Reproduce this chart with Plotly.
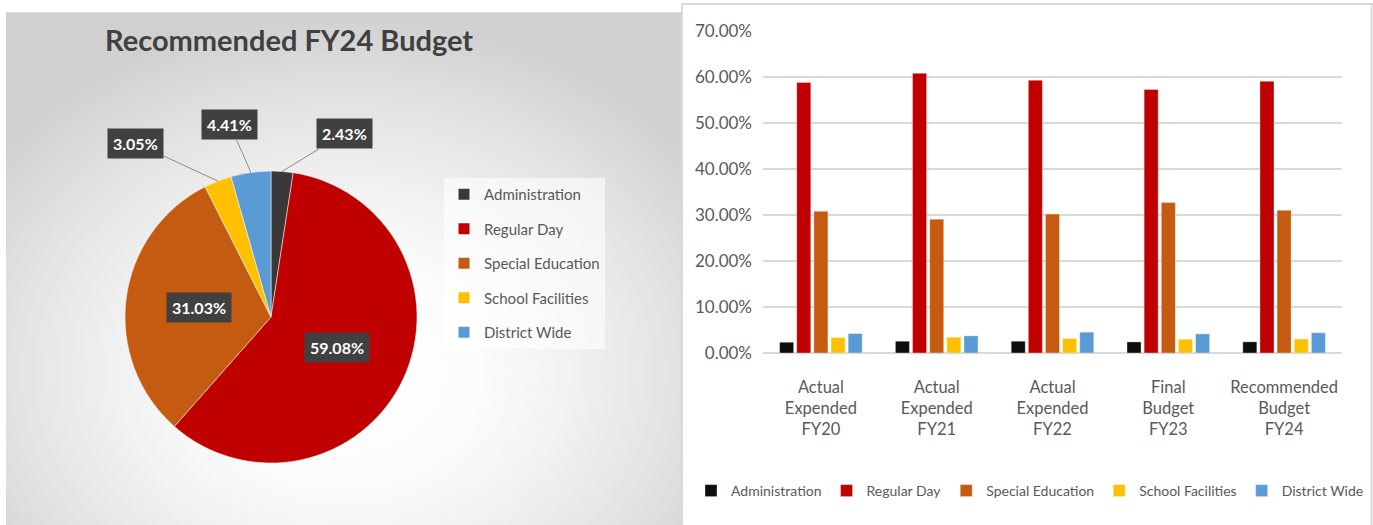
import math
import plotly.graph_objects as go

# ---------------- data ----------------
categories = ["Administration", "Regular Day", "Special Education", "School Facilities", "District Wide"]
pie_values = [2.43, 59.08, 31.03, 3.05, 4.41]

periods = ["Actual<br>Expended<br>FY20", "Actual<br>Expended<br>FY21", "Actual<br>Expended<br>FY22",
           "Final<br>Budget<br>FY23", "Recommended<br>Budget<br>FY24"]
admin_share = [0.0234, 0.0256, 0.0256, 0.0241, 0.0243]
regular_share = [0.588, 0.608, 0.593, 0.573, 0.5908]
sped_share = [0.308, 0.291, 0.302, 0.327, 0.3103]
facilities_share = [0.0336, 0.0343, 0.0314, 0.0300, 0.0305]
district_share = [0.0424, 0.0373, 0.0453, 0.0416, 0.0441]

y_tick_vals = [0, 0.1, 0.2, 0.3, 0.4, 0.5, 0.6, 0.7]

# ---------------- style ----------------
W, H = 1373, 525
FONT = "Lato"
TXT = "#595959"
bar_colors = ["#0d0d0d", "#c00000", "#c55a11", "#ffc000", "#5b9bd5"]
pie_colors = ["#3a3838", "#c00000", "#c55a11", "#ffc000", "#5b9bd5"]


def px(x):
    return x / W


def py(y):
    return 1 - y / H


fig = go.Figure()

# background gradient panel for the pie (polygon extends past the clipped panel to shift the light centre)
fig.add_trace(go.Scatter(
    x=[-0.15, 1.15, 1.15, -0.15, -0.15], y=[-0.4, -0.4, 1, 1, -0.4], fill="toself", mode="none",
    fillgradient=dict(type="radial", colorscale=[[0, "#ffffff"], [0.3, "#fcfcfc"], [0.5, "#f2f2f2"],
                                                 [0.75, "#e3e3e3"], [1, "#d0d0d0"]]),
    hoverinfo="skip", showlegend=False, xaxis="x3", yaxis="y3"))

# pie
cx, cy, r = 271, 317, 146
fig.add_trace(go.Pie(
    labels=categories, values=pie_values, marker=dict(colors=pie_colors, line=dict(color="white", width=0.5)),
    sort=False, direction="clockwise", rotation=0, textinfo="none", showlegend=False, hoverinfo="label+percent",
    domain=dict(x=[px(cx - r), px(cx + r)], y=[py(cy + r), py(cy - r)])))

# pie legend (separate legend)
for name, col in zip(categories, pie_colors):
    fig.add_trace(go.Scatter(
        x=[None], y=[None], mode="markers", name=name,
        marker=dict(symbol="square", size=11, color=col),
        legend="legend2", legendgroup="pie_" + name, xaxis="x3", yaxis="y3"))

# bars
series = [admin_share, regular_share, sped_share, facilities_share, district_share]
for name, col, vals in zip(categories, bar_colors, series):
    fig.add_trace(go.Bar(
        x=periods, y=vals, name=name,
        marker=dict(color=col, line=dict(color="rgba(255,255,255,0.6)", width=0.6)),
        legend="legend"))

# pie data labels
label_offsets = {  # pixel offsets for small-slice callouts
    "Administration": (62, -38),
    "School Facilities": (-82, -38),
    "District Wide": (-21, -48),
}
total = sum(pie_values)
cum = 0
annotations = []
for name, v in zip(categories, pie_values):
    mid = (cum + v / 2) / total * 2 * math.pi
    cum += v
    text = f"<b>{v:.2f}%</b>"
    if name in label_offsets:
        ex, ey = cx + r * math.sin(mid), cy - r * math.cos(mid)
        ax, ay = label_offsets[name]
        annotations.append(dict(
            x=px(ex), y=py(ey), xref="paper", yref="paper", text=text, showarrow=True,
            arrowhead=0, arrowwidth=1, arrowcolor="#8c8c8c", ax=ax, ay=ay,
            bgcolor="#404040", borderpad=5, font=dict(family=FONT, size=16, color="white")))
    else:
        lx, ly = cx + 0.5 * r * math.sin(mid), cy - 0.5 * r * math.cos(mid)
        annotations.append(dict(
            x=px(lx), y=py(ly), xref="paper", yref="paper", text=text, showarrow=False,
            xanchor="center", yanchor="middle",
            bgcolor="#404040", borderpad=5, font=dict(family=FONT, size=16, color="white")))

annotations.append(dict(
    x=px(289), y=py(40), xref="paper", yref="paper", text="<b>Recommended FY24 Budget</b>",
    xanchor="center", yanchor="middle",
    showarrow=False, font=dict(family=FONT, size=29, color="#404040")))

shapes = [
    dict(type="line", xref="paper", yref="paper", x0=px(6), x1=px(682), y0=py(13), y1=py(13),
         line=dict(color="#cfcfcf", width=1.5)),
    dict(type="line", xref="paper", yref="paper", x0=px(682), x1=px(682), y0=0, y1=py(4),
         line=dict(color="#d9d9d9", width=2)),
    dict(type="line", xref="paper", yref="paper", x0=px(682), x1=1, y0=py(4), y1=py(4),
         line=dict(color="#d9d9d9", width=2)),
    dict(type="line", xref="paper", yref="paper", x0=px(1371.5), x1=px(1371.5), y0=0, y1=py(4),
         line=dict(color="#d9d9d9", width=2)),
]

fig.update_layout(
    width=W, height=H, margin=dict(l=0, r=0, t=0, b=0, autoexpand=False),
    paper_bgcolor="white", plot_bgcolor="white",
    font=dict(family=FONT, color=TXT),
    barmode="group", bargap=0.26, bargroupgap=0.18,
    xaxis=dict(domain=[px(763), px(1342)], showgrid=False, showline=False, ticks="", automargin=False,
               tickfont=dict(size=16.5, color=TXT), ticklabelstandoff=22, fixedrange=True),
    yaxis=dict(domain=[py(353), py(31)], range=[0, 0.7], tickvals=y_tick_vals, tickformat=".2%",
               showgrid=True, gridcolor="#d9d9d9", gridwidth=1.5, zeroline=True, zerolinecolor="#d9d9d9",
               zerolinewidth=1.5, tickfont=dict(size=17, color=TXT), ticklabelstandoff=10, automargin=False,
               fixedrange=True),
    xaxis3=dict(domain=[px(6), px(682)], range=[0, 1], visible=False, fixedrange=True, automargin=False),
    yaxis3=dict(domain=[0, py(13)], range=[0, 1], visible=False, fixedrange=True, automargin=False),
    legend=dict(orientation="h", x=px(1030), xanchor="center", y=py(491), yanchor="middle",
                font=dict(size=14, color=TXT), bgcolor="rgba(0,0,0,0)", itemclick=False),
    legend2=dict(x=px(444), xanchor="left", y=py(178), yanchor="top", traceorder="grouped",
                 tracegroupgap=12, font=dict(size=15, color=TXT), bgcolor="rgba(255,255,255,0.6)",
                 itemclick=False),
    annotations=annotations, shapes=shapes,
)

fig.write_html("out.html", config={"displayModeBar": False},
               post_script="document.body.style.margin='0';document.body.style.overflow='hidden';")
